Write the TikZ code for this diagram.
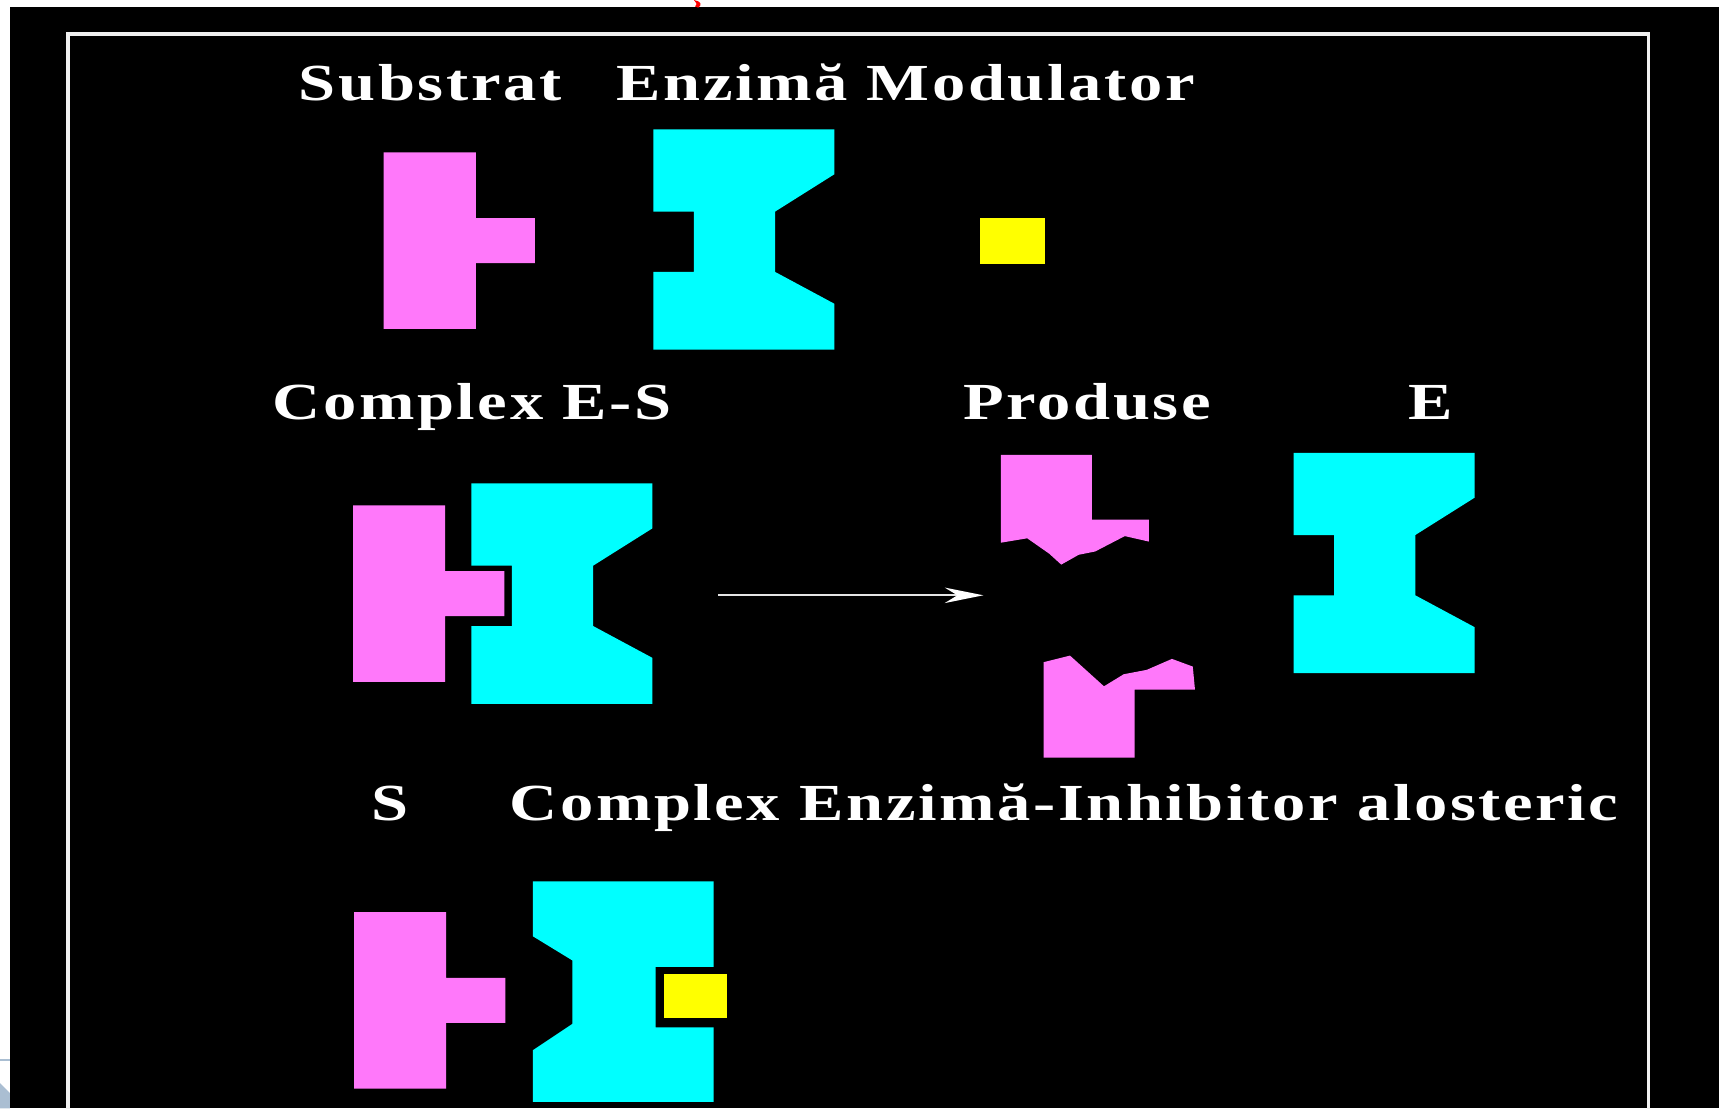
\documentclass[tikz,border=0pt]{standalone}
\usepackage{fontspec}
\setmainfont{Liberation Serif}
\newfontfamily\etichfont[FakeStretch=1.28, LetterSpace=5]{Liberation Serif}
\usetikzlibrary{arrows.meta}
\definecolor{roz}{RGB}{255,120,250}
\definecolor{turcoaz}{RGB}{0,255,255}
\definecolor{galben}{RGB}{255,255,0}
\definecolor{albastrudeschis}{RGB}{170,190,210}
\tikzset{
  eticheta/.style = {text=white, inner sep=0pt, anchor=base west,
                     font=\etichfont\bfseries\fontsize{13.5}{16}\selectfont},
  subs/.style     = {fill=roz},
  enz/.style      = {fill=turcoaz},
  modul/.style    = {fill=galben},
  rama/.style     = {draw=white!88!gray, line width=0.8pt},
  reactie/.style  = {draw=white!80!gray, line width=0.6pt,
                     -{Stealth[length=10pt,width=4pt,color=white]}}
}
% substrat: bloc cu un dinte spre dreapta
\newcommand{\substrat}[1]{%
  \fill[subs, shift={#1}] (0,0) -- (84,0) -- (84,60) -- (138,60) -- (138,101)
    -- (84,101) -- (84,161) -- (0,161) -- cycle;}
% enzima: situs activ la stanga, situs alosteric la dreapta
\newcommand{\enzima}[1]{%
  \fill[enz, shift={#1}] (0,0) -- (165,0) -- (165,41) -- (111,75) -- (111,130)
    -- (165,159) -- (165,201) -- (0,201) -- (0,130) -- (37,130) -- (37,75)
    -- (0,75) -- cycle;}

\begin{document}
\begin{tikzpicture}[x=0.1mm, y=-0.1mm]
  \useasboundingbox (0,0) rectangle (1568,1011);
  \fill[white] (0,0) rectangle (1568,1011);
  \fill[black] (9,6) rectangle (1568,1011);
  \fill[red] (633,0) .. controls (639,1) and (641,4) .. (637,7)
    -- (634,6) .. controls (636,4) .. (633,0) -- cycle;
  \draw[albastrudeschis, line width=0.6pt] (0,967) -- (9,967);
  \fill[albastrudeschis] (0,988) -- (9,997) -- (9,1011) -- (0,1011) -- cycle;
  \begin{scope}
    \clip (9,6) rectangle (1568,1011);
    \draw[rama] (62,31) rectangle (1504,1040);
  \end{scope}

  % randul 1
  \node[eticheta] (substrat) at (272,92) {Substrat};
  \node[eticheta] (enzima) at (562,92) {Enzimă};
  \node[eticheta] (modulator) at (790,92) {Modulator};
  \substrat{(350,139)}
  \enzima{(596,118)}
  \fill[modul] (894,199) rectangle (953,241);

  % randul 2
  \node[eticheta] (complexes) at (248,383) {Complex E-S};
  \node[eticheta] (produse) at (878,383) {Produse};
  \node[eticheta] (enzlib) at (1284,383) {E};
  \substrat{(322,461)}
  \enzima{(430,441)}
  \coordinate (reactie-start) at (655,543);
  \coordinate (reactie-end) at (897,543);
  \draw[reactie] (reactie-start) -- (reactie-end);
  \fill[subs] (913,415) -- (996,415) -- (996,474) -- (1048,474) -- (1048,494)
    -- (1026,489) -- (999,503) -- (984,506) -- (968,515) -- (957,505)
    -- (937,491) -- (913,495) -- cycle;
  \fill[subs] (952,604) -- (976,598) -- (1007,626) -- (1025,615) -- (1046,611)
    -- (1069,601) -- (1088,608) -- (1090,629) -- (1035,629) -- (1035,691)
    -- (952,691) -- cycle;
  \enzima{(1180,413)}

  % randul 3
  \node[eticheta] (s) at (338,748) {S};
  \node[eticheta] (complexei) at (464,748) {Complex Enzimă-Inhibitor alosteric};
  \substrat{(323,832)}
  \fill[enz] (486,804) -- (651,804) -- (651,882) -- (598,882) -- (598,937)
    -- (651,937) -- (651,1005) -- (486,1005) -- (486,958) -- (522,934)
    -- (522,876) -- (486,854) -- cycle;
  \fill[modul] (606,888) rectangle (663,929);
\end{tikzpicture}
\end{document}
